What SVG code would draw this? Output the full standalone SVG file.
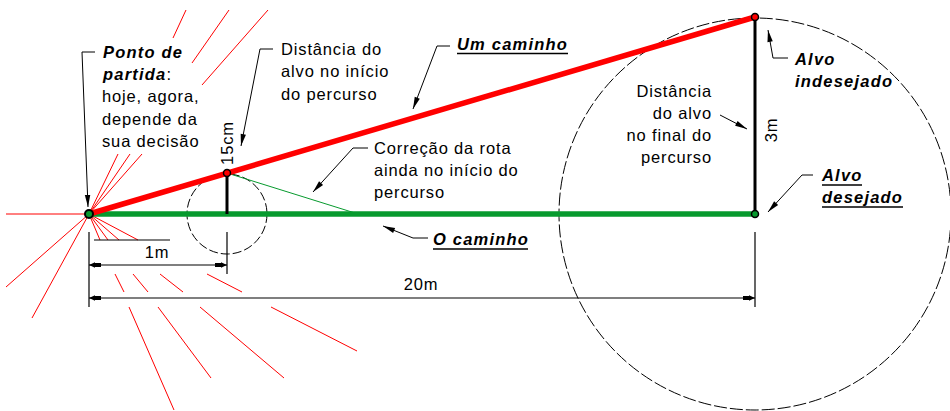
<svg xmlns="http://www.w3.org/2000/svg" width="950" height="411" viewBox="0 0 950 411">
<style>
  text{font-family:"Liberation Sans",Arial,sans-serif;font-size:16.5px;fill:#000;letter-spacing:0.85px}
  .bi{font-weight:bold;font-style:italic;letter-spacing:1.2px}
  .ray{stroke:#ff0000;stroke-width:1;fill:none}
  .lead{stroke:#000;stroke-width:1;fill:none;marker-end:url(#arr)}
  .dim{stroke:#000;stroke-width:1.2;fill:none}
  .ul{stroke:#000;stroke-width:1.5}
  .dash{stroke:#000;stroke-width:1;fill:none}
</style>
<defs>
  <marker id="arr" markerUnits="userSpaceOnUse" markerWidth="14" markerHeight="8" refX="12" refY="4" orient="auto" overflow="visible">
    <path d="M12,4 L0,1.3 L0,6.7 Z" fill="#000"/>
  </marker>
  <marker id="dimEnd" markerUnits="userSpaceOnUse" markerWidth="14" markerHeight="8" refX="12" refY="4" orient="auto" overflow="visible">
    <path d="M12,4 L6,1.3 L6,2 L0,2 L0,6 L6,6 L6,6.7 Z" fill="#000"/>
  </marker>
  <marker id="dimStart" markerUnits="userSpaceOnUse" markerWidth="14" markerHeight="8" refX="0" refY="4" orient="auto" overflow="visible">
    <path d="M0,4 L6,1.3 L6,2 L12,2 L12,6 L6,6 L6,6.7 Z" fill="#000"/>
  </marker>
</defs>
<rect width="950" height="411" fill="#fff"/>

<g id="circles">
  <circle cx="755" cy="214" r="196" class="dash" stroke-dasharray="13,3"/>
  <circle cx="227" cy="214" r="40" class="dash" stroke-dasharray="9,3"/>
</g>

<g id="rays">
  <line class="ray" x1="186" y1="10" x2="173" y2="38"/>
  <line class="ray" x1="229" y1="10" x2="192" y2="63"/>
  <line class="ray" x1="268" y1="10" x2="202" y2="85"/>
  <line class="ray" x1="89" y1="214" x2="118" y2="154"/>
  <line class="ray" x1="89" y1="214" x2="130" y2="154"/>
  <line class="ray" x1="89" y1="214" x2="142" y2="154"/>
  <line class="ray" x1="6" y1="214" x2="89" y2="214"/>
  <line class="ray" x1="89" y1="214" x2="6" y2="287"/>
  <line class="ray" x1="89" y1="214" x2="32" y2="318"/>
  <line class="ray" x1="89" y1="214" x2="100" y2="240"/>
  <line class="ray" x1="89" y1="214" x2="108" y2="240"/>
  <line class="ray" x1="89" y1="214" x2="119" y2="240"/>
  <line class="ray" x1="89" y1="214" x2="138" y2="240"/>
  <line class="ray" x1="115" y1="274" x2="124" y2="292"/>
  <line class="ray" x1="133" y1="274" x2="148" y2="292"/>
  <line class="ray" x1="160" y1="274" x2="183" y2="292"/>
  <line class="ray" x1="207" y1="274" x2="242" y2="292"/>
  <line class="ray" x1="129" y1="307" x2="174" y2="410"/>
  <line class="ray" x1="158" y1="307" x2="211" y2="378"/>
  <line class="ray" x1="200" y1="307" x2="284" y2="378"/>
  <line class="ray" x1="271" y1="307" x2="357" y2="351"/>
</g>

<g id="paths">
  <line id="o-caminho" x1="89" y1="214" x2="755" y2="214" stroke="#079a2e" stroke-width="5.5" stroke-linecap="round"/>
  <line id="correcao" x1="227" y1="173" x2="355" y2="213" stroke="#079a2e" stroke-width="1"/>
  <line id="um-caminho" x1="89" y1="214" x2="755" y2="17" stroke="#ff0000" stroke-width="5.5"/>
  <line x1="227" y1="173" x2="227" y2="214" stroke="#000" stroke-width="3"/>
  <line x1="755" y1="17" x2="755" y2="214" stroke="#000" stroke-width="3"/>
</g>

<g id="points">
  <circle cx="89" cy="214" r="4" fill="#079a2e" stroke="#000" stroke-width="2"/>
  <circle cx="227" cy="173" r="3.5" fill="#ff0000" stroke="#000" stroke-width="1.5"/>
  <circle cx="755" cy="17" r="3.5" fill="#ff0000" stroke="#000" stroke-width="1.5"/>
  <circle cx="755" cy="214" r="3.5" fill="#079a2e" stroke="#000" stroke-width="1.5"/>
</g>

<g id="dimensions">
  <line class="dim" x1="89" y1="232" x2="89" y2="307"/>
  <line class="dim" x1="227" y1="232" x2="227" y2="274"/>
  <line class="dim" x1="755" y1="232" x2="755" y2="307"/>
  <line class="dim" x1="94" y1="240" x2="170" y2="240"/>
  <line class="dim" x1="89" y1="265" x2="227" y2="265" marker-start="url(#dimStart)" marker-end="url(#dimEnd)"/>
  <line class="dim" x1="89" y1="298" x2="755" y2="298" marker-start="url(#dimStart)" marker-end="url(#dimEnd)"/>
  <text x="157" y="258" text-anchor="middle">1m</text>
  <text x="421" y="290" text-anchor="middle">20m</text>
  <text transform="translate(233,143) rotate(-90)" text-anchor="middle">15cm</text>
  <text transform="translate(777,130) rotate(-90)" text-anchor="middle">3m</text>
</g>

<g id="connectors">
  <polyline class="lead" points="95,52 82,52 88,207"/>
  <polyline class="lead" points="273,49 260,49 241,146"/>
  <polyline class="lead" points="450,46 437,46 413,109"/>
  <polyline class="lead" points="368,148 353,148 313,192"/>
  <polyline class="lead" points="428,238 413,238 383,226"/>
  <polyline class="lead" points="720,115 747,129"/>
  <polyline class="lead" points="788,58 773,58 768,30"/>
  <polyline class="lead" points="813,175 802,175 768,212"/>
</g>

<g id="label-ponto">
  <text x="103" y="58" class="bi">Ponto de</text>
  <text x="103" y="80"><tspan class="bi">partida</tspan>:</text>
  <text x="102" y="102">hoje, agora,</text>
  <text x="102" y="125">depende da</text>
  <text x="102" y="147">sua decisão</text>
</g>

<g id="label-dist-inicio">
  <text x="281" y="55">Distância do</text>
  <text x="281" y="77">alvo no início</text>
  <text x="281" y="100">do percurso</text>
</g>

<g id="label-um-caminho">
  <text x="457" y="50" class="bi">Um caminho</text>
  <line class="ul" x1="457" y1="53.5" x2="568" y2="53.5"/>
</g>

<g id="label-correcao">
  <text x="374" y="154">Correção da rota</text>
  <text x="374" y="176">ainda no início do</text>
  <text x="374" y="198">percurso</text>
</g>

<g id="label-o-caminho">
  <text x="433" y="245" class="bi">O caminho</text>
  <line class="ul" x1="433" y1="249" x2="528" y2="249"/>
</g>

<g id="label-dist-final">
  <text x="712" y="97" text-anchor="end">Distância</text>
  <text x="712" y="119" text-anchor="end">do alvo</text>
  <text x="712" y="141" text-anchor="end">no final do</text>
  <text x="712" y="163" text-anchor="end">percurso</text>
</g>

<g id="label-alvo-indesejado">
  <text x="795" y="65" class="bi">Alvo</text>
  <text x="795" y="87" class="bi">indesejado</text>
</g>

<g id="label-alvo-desejado">
  <text x="822" y="181" class="bi">Alvo</text>
  <line class="ul" x1="822" y1="185" x2="862" y2="185"/>
  <text x="822" y="203" class="bi">desejado</text>
  <line class="ul" x1="822" y1="207" x2="903" y2="207"/>
</g>
</svg>
